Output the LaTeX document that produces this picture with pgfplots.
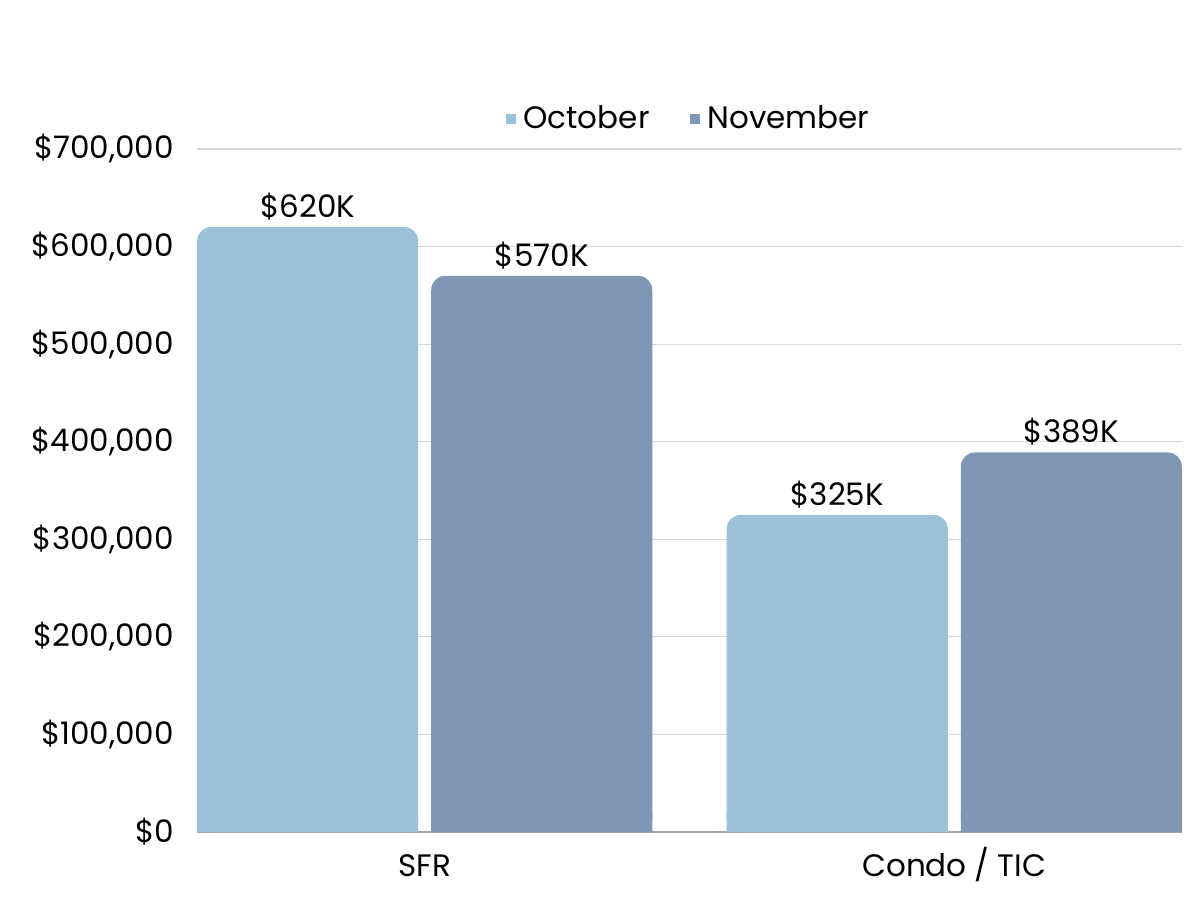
\documentclass[border=0pt]{standalone}
\usepackage{fontspec}
\setmainfont{Poppins}
\usepackage{pgfplots}
\usepackage{pgfplotstable}
\pgfplotsset{compat=1.18}
\definecolor{octc}{HTML}{9BC2D8}
\definecolor{novc}{HTML}{7F97B4}
\definecolor{gridc}{HTML}{D9D9D9}
\pgfplotstableread{
x oct nov octl novl base
0 620000 570000 620 570 20000
1 325000 389000 325 389 20000
}\data
\begin{document}
\begin{tikzpicture}
\useasboundingbox (0,0) rectangle (600pt,450pt);
\begin{axis}[
  at={(98.5pt,34pt)}, anchor=south west,
  scale only axis, width=492.5pt, height=341.5pt,
  ybar, bar width=0.4174,
  xmin=-0.43, xmax=1.43, ymin=0, ymax=700000,
  xtick={0,1}, xticklabels={SFR, Condo / TIC},
  ytick={0,100000,...,700000},
  yticklabel={\$\pgfmathprintnumber{\tick}},
  /pgf/number format/fixed, /pgf/number format/1000 sep={,},
  /pgf/number format/assume math mode=true,
  scaled y ticks=false,
  font=\fontsize{15.5pt}{18pt}\selectfont,
  ymajorgrids, grid style={gridc, line width=0.6pt},
  axis x line*=bottom, axis y line*=left,
  y axis line style={draw=none},
  x axis line style={draw=gray!70, line width=0.6pt},
  major tick length=0pt,
  xticklabel style={yshift=-7.5pt, text height=11pt, text depth=3pt},
  yticklabel style={xshift=-8pt},
  legend style={at={(0.5,1.044)}, anchor=center, draw=none, fill=none,
    legend columns=2, font=\fontsize{15.5pt}{18pt}\selectfont,
    /tikz/every odd column/.append style={column sep=2pt},
    /tikz/every even column/.append style={column sep=18pt}},
  legend image code/.code={\fill[#1, sharp corners] (0pt,-2.5pt) rectangle (5pt,2.5pt);},
  lab/.style={point meta=explicit,
    nodes near coords={\$\pgfmathprintnumber{\pgfplotspointmeta}K},
    nodes near coords style={font=\fontsize{15.5pt}{18pt}\selectfont, black, anchor=south, yshift=0pt}},
]
\addplot[fill=octc, draw=none, bar shift=-0.221, forget plot] table[x=x, y=base] {\data};
\addplot[fill=novc, draw=none, bar shift=0.221, forget plot] table[x=x, y=base] {\data};
\addplot[fill=octc, draw=none, bar shift=-0.221, rounded corners=7pt, lab] table[x=x, y=oct, meta=octl] {\data};
\addplot[fill=novc, draw=none, bar shift=0.221, rounded corners=7pt, lab] table[x=x, y=nov, meta=novl] {\data};
\legend{October, November}
\end{axis}
\end{tikzpicture}
\end{document}
